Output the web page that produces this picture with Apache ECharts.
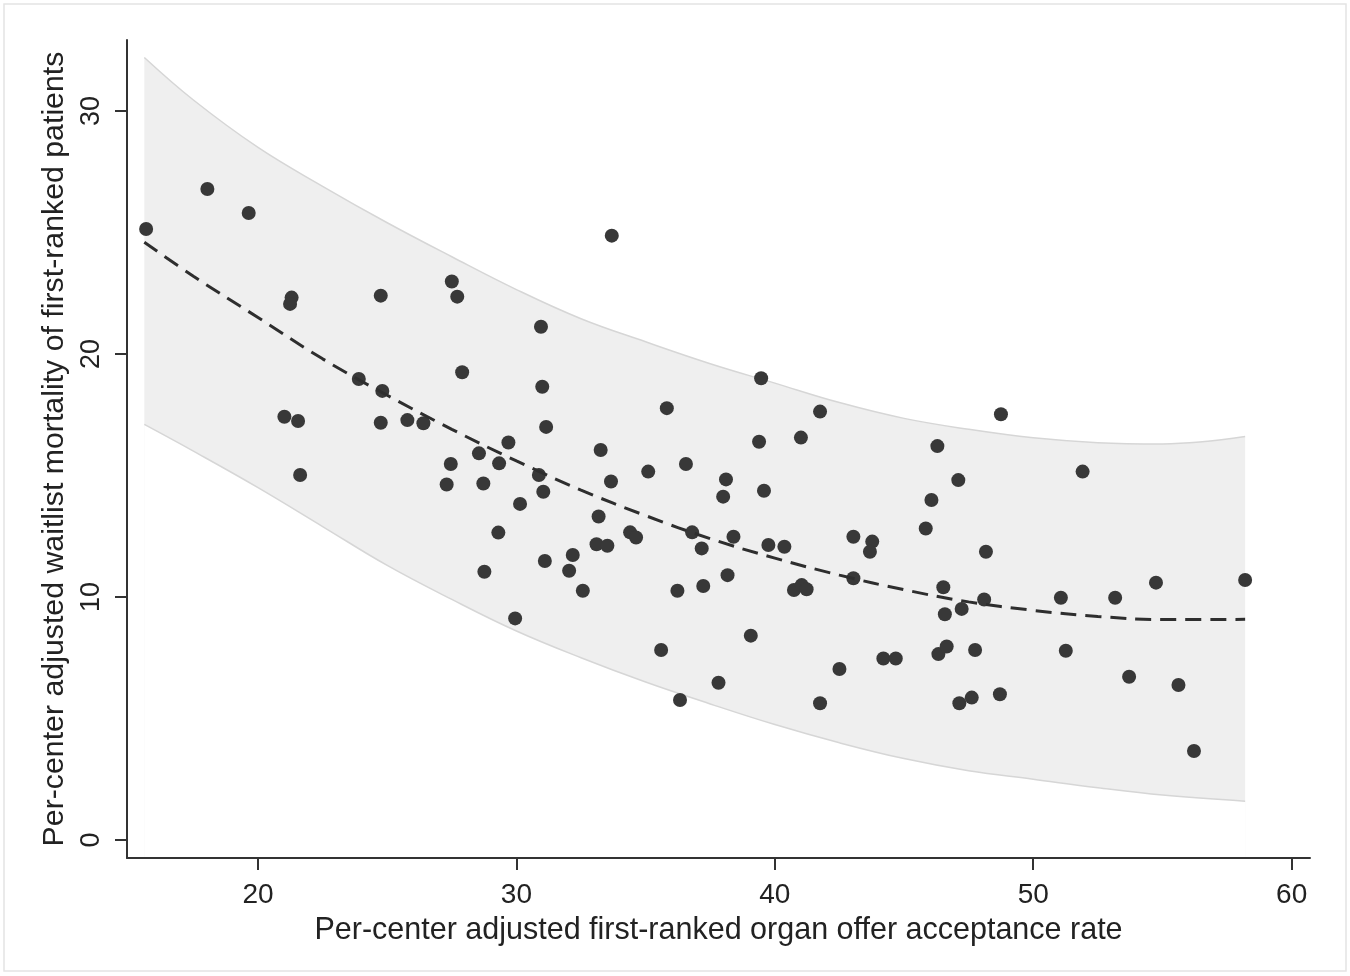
<!DOCTYPE html>
<html>
<head>
<meta charset="utf-8">
<script src="https://cdn.jsdelivr.net/npm/echarts@6/dist/echarts.min.js"></script>
<style>
  html, body { margin: 0; padding: 0; background: #fff; }
  #chart { width: 1350px; height: 976px; }
</style>
</head>
<body>
<div id="chart"></div>
<script>
// centre points (x = acceptance rate, y = waitlist mortality)
var scatterX = [15.67, 18.04, 19.64, 21.3, 21.24, 24.75, 27.5, 27.71, 30.95, 27.9,
  23.9, 24.81, 31.0, 21.02, 21.55, 24.75, 25.78, 26.4, 31.15, 29.69,
  21.63, 28.55, 29.33, 30.87, 31.04, 27.46, 27.3, 28.72, 30.14, 29.3,
  31.1, 28.76, 29.95, 35.82, 41.75, 33.26, 39.39, 41.01, 46.29, 36.56,
  35.1, 33.66, 38.11, 38.0, 39.58, 46.06, 45.84, 33.18, 34.4, 34.63,
  33.1, 33.52, 36.8, 38.4, 37.17, 39.75, 40.37, 43.04, 43.77, 43.68,
  32.18, 32.04, 32.57, 36.23, 37.23, 38.17, 40.74, 41.04, 41.23, 43.04,
  46.52, 46.58, 46.33, 46.65, 39.07, 35.6, 42.5, 44.2, 44.68, 37.82,
  36.33, 41.75, 33.69, 39.47, 48.75, 51.91, 47.1, 48.17, 54.75, 58.2,
  48.1, 51.07, 53.17, 47.23, 47.75, 51.26, 53.71, 55.62, 47.14, 47.62,
  48.71, 56.22];
var scatterY = [25.14, 26.79, 25.8, 22.32, 22.06, 22.4, 22.98, 22.36, 21.12, 19.25,
  18.97, 18.48, 18.65, 17.42, 17.24, 17.17, 17.28, 17.15, 17.0, 16.36,
  15.02, 15.91, 15.5, 15.02, 14.33, 15.47, 14.63, 14.67, 13.83, 12.65,
  11.48, 11.04, 9.12, 17.77, 17.63, 16.05, 16.39, 16.56, 16.21, 15.47,
  15.16, 14.75, 14.84, 14.13, 14.37, 13.99, 12.82, 13.31, 12.66, 12.45,
  12.17, 12.11, 12.66, 12.48, 12.0, 12.14, 12.07, 12.48, 12.28, 11.86,
  11.73, 11.08, 10.26, 10.26, 10.45, 10.9, 10.29, 10.49, 10.32, 10.77,
  10.4, 9.29, 7.65, 7.96, 8.41, 7.82, 7.04, 7.47, 7.47, 6.47,
  5.76, 5.63, 24.87, 19.0, 17.52, 15.16, 14.81, 11.86, 10.59, 10.7,
  9.9, 9.97, 9.97, 9.51, 7.82, 7.79, 6.72, 6.38, 5.63, 5.86,
  6.0, 3.66];

// fitted curve and band, read at these x positions
var curveX = [15.6, 17.5, 20, 22.5, 25, 27.5, 30, 32.5, 35, 37.5, 40, 42.5, 45, 47.5, 50, 52.5, 55, 58.2];
var fitY = [24.6, 23.2, 21.5, 19.8, 18.3, 16.9, 15.6, 14.4, 13.35, 12.4, 11.6, 10.9, 10.3, 9.8, 9.45, 9.2, 9.07, 9.08];
var bandUpper = [32.2, 30.45, 28.5, 26.9, 25.4, 24.0, 22.65, 21.45, 20.5, 19.6, 18.8, 18.0, 17.35, 16.9, 16.55, 16.35, 16.3, 16.6];
var bandLower = [17.1, 16.0, 14.5, 12.9, 11.3, 9.9, 8.6, 7.5, 6.5, 5.6, 4.75, 4.0, 3.35, 2.85, 2.5, 2.15, 1.85, 1.6];

var xTicks = [20, 30, 40, 50, 60];
var yTicks = [0, 10, 20, 30];

var myChart = echarts.init(document.getElementById('chart'));
var fontFam = '"Liberation Sans", Arial, Helvetica, sans-serif';
var axisColor = '#333';

var pairs = function (xs, ys) { return xs.map(function (x, i) { return [x, ys[i]]; }); };

myChart.setOption({
    backgroundColor: '#fff',
    animation: false,
    graphic: [{
        type: 'rect',
        shape: {x: 4, y: 4, width: 1342, height: 967},
        style: {fill: 'none', stroke: '#e4e4e4', lineWidth: 1.5},
        silent: true
    }],
    grid: {
        left: 127,
        right: 40,
        top: 40,
        bottom: 118
    },
    xAxis: {
        type: 'value',
        min: 14.93,
        max: 60.71,
        z: 10,
        name: 'Per-center adjusted first-ranked organ offer acceptance rate',
        nameLocation: 'middle',
        nameGap: 57,
        nameTextStyle: {color: '#222', fontSize: 30.5, fontFamily: fontFam},
        axisLine: {show: true, onZero: false, lineStyle: {color: axisColor, width: 2}},
        axisTick: {show: true, length: 12, customValues: xTicks, lineStyle: {color: axisColor, width: 2}},
        axisLabel: {customValues: xTicks, color: '#222', fontSize: 28, fontFamily: fontFam, margin: 23},
        splitLine: {show: false}
    },
    yAxis: {
        type: 'value',
        min: -0.74,
        max: 32.92,
        z: 10,
        name: 'Per-center adjusted waitlist mortality of first-ranked patients',
        nameLocation: 'middle',
        nameGap: 52,
        nameTextStyle: {color: '#222', fontSize: 30.3, fontFamily: fontFam},
        axisLine: {show: true, onZero: false, lineStyle: {color: axisColor, width: 2}},
        axisTick: {show: true, length: 12, customValues: yTicks, lineStyle: {color: axisColor, width: 2}},
        axisLabel: {customValues: yTicks, rotate: 90, color: '#222', fontSize: 27, fontFamily: fontFam, margin: 22},
        splitLine: {show: false}
    },
    series: [
        {
            // upper edge of the band, filled down to the axis
            type: 'line',
            data: pairs(curveX, bandUpper),
            smooth: 0.4,
            symbol: 'none',
            lineStyle: {color: '#d6d6d6', width: 1.5},
            areaStyle: {color: '#efefef', opacity: 1, origin: 'start'},
            z: 1
        },
        {
            // lower edge, blanking out below the band
            type: 'line',
            data: pairs(curveX, bandLower),
            smooth: 0.4,
            symbol: 'none',
            lineStyle: {color: '#d6d6d6', width: 1.5},
            areaStyle: {color: '#ffffff', opacity: 1, origin: 'start'},
            z: 1.5
        },
        {
            type: 'scatter',
            data: pairs(scatterX, scatterY),
            symbol: 'circle',
            symbolSize: 14,
            itemStyle: {color: '#383838', opacity: 1},
            z: 3
        },
        {
            type: 'line',
            data: pairs(curveX, fitY),
            smooth: 0.4,
            symbol: 'none',
            lineStyle: {color: '#2e2e2e', width: 3, type: [16, 9]},
            z: 4
        }
    ]
});
window.addEventListener('resize', function () { myChart.resize(); });
</script>
</body>
</html>
